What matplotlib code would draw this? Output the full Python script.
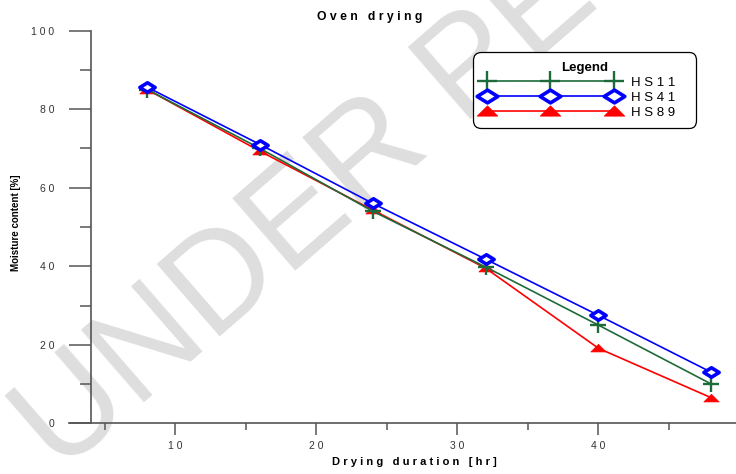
import matplotlib
matplotlib.use("Agg")
import matplotlib.pyplot as plt
from matplotlib.path import Path
from matplotlib.ticker import FixedLocator, FuncFormatter

plt.rcParams['font.family'] = ['Liberation Sans', 'DejaVu Sans']

# drying time [hr] and moisture content [%]
hours = [8, 16, 24, 32, 40, 48]
hs11 = [85.0, 70.0, 54.0, 39.8, 25.0, 10.0]
hs41 = [85.6, 71.0, 56.0, 41.8, 27.5, 13.0]
hs89 = [85.0, 69.3, 54.3, 39.5, 19.1, 6.5]

series_names = ['HS11', 'HS41', 'HS89']

x_major = [10, 20, 30, 40, 50]
x_minor = [5, 15, 25, 35, 45]
y_major = [0, 20, 40, 60, 80, 100]
y_minor = [10, 30, 50, 70, 90]

W, H = 736, 474


def spaced(s):
    """put a space between every character, like the old plotting package did"""
    return ' '.join(s)


# flattened marker shapes
diamond = Path([(-1, 0), (0, 0.62), (1, 0), (0, -0.62), (-1, 0)],
               [Path.MOVETO, Path.LINETO, Path.LINETO, Path.LINETO, Path.CLOSEPOLY])
triangle = Path([(-1, -0.45), (1, -0.45), (0, 0.55), (-1, -0.45)],
                [Path.MOVETO, Path.LINETO, Path.LINETO, Path.CLOSEPOLY])

fig = plt.figure(figsize=(W / 100, H / 100), dpi=100)
ax = fig.add_axes([0, 0, 1, 1])
ax.set_facecolor('none')

# pixel mapping: x=0 at 34.5px, 14.1 px per hour; y=0 at 423.3px, 3.926 px per %
ax.set_xlim(-34.5 / 14.1, (W - 34.5) / 14.1)
ax.set_ylim(-(H - 423.3) / 3.926, 100 + 30.7 / 3.926)

# watermark
ax.text(60 / W, 1 - 475 / H, 'UNDER PEER REVIEW', transform=ax.transAxes,
        rotation=41, rotation_mode='anchor', ha='left', va='baseline',
        fontsize=100, color='#dedede', zorder=0)

ax.plot(hours, hs11, color='#1e6b3a', lw=1.2, marker='+', ms=11, mew=1.7,
        label=spaced(series_names[0]) + '   ', zorder=3)
ax.plot(hours, hs41, color='#0000ff', lw=1.2, marker=diamond, ms=11, mew=2.6,
        mfc='white', mec='#0000ff', label=spaced(series_names[1]) + '   ', zorder=4)
ax.plot(hours, hs89, color='#ff0000', lw=1.2, marker=triangle, ms=11, mew=0.5,
        mfc='#ff0000', mec='#ff0000', label=spaced(series_names[2]) + '   ', zorder=2)

# axes drawn the way the original package did it
for side in ['top', 'right']:
    ax.spines[side].set_visible(False)
ax.spines['left'].set_position(('data', 4))
ax.spines['left'].set_bounds(0, 100)
ax.spines['bottom'].set_position(('data', 0))
ax.spines['bottom'].set_bounds(69 / 14.1 - 34.5 / 14.1, (W - 34.5) / 14.1)
for side in ['left', 'bottom']:
    ax.spines[side].set_color('#555555')
    ax.spines[side].set_linewidth(1.2)

ax.xaxis.set_major_locator(FixedLocator(x_major))
ax.xaxis.set_minor_locator(FixedLocator(x_minor))
ax.yaxis.set_major_locator(FixedLocator(y_major))
ax.yaxis.set_minor_locator(FixedLocator(y_minor))
fmt = FuncFormatter(lambda v, p: spaced(str(int(v))))
ax.xaxis.set_major_formatter(fmt)
ax.yaxis.set_major_formatter(fmt)

ax.tick_params(axis='x', which='major', direction='out', length=8.6, width=1.1,
               color='#555555', pad=4.0, labelsize=7.5, labelcolor='#333333')
ax.tick_params(axis='x', which='minor', direction='out', length=5, width=1.1,
               color='#555555')
ax.tick_params(axis='y', which='major', direction='out', length=15.8, width=1.1,
               color='#555555', pad=10.5, labelsize=7.5, labelcolor='#333333')
ax.tick_params(axis='y', which='minor', direction='out', length=7.9, width=1.1,
               color='#555555')

fig.text(370 / W, 1 - 17 / H, spaced('Oven') + '   ' + spaced('drying'),
         ha='center', va='center', fontsize=8.8, fontweight='bold')
fig.text(414 / W, 1 - 462 / H,
         spaced('Drying') + '   ' + spaced('duration') + '   ' + spaced('[hr]'),
         ha='center', va='center', fontsize=8, fontweight='bold')
fig.text(16 / W, 1 - 223 / H, 'Moisture content [%]', rotation=90,
         ha='center', va='center', fontsize=7, fontweight='bold')

leg = ax.legend(loc='upper left', bbox_to_anchor=(473 / W, 1 - 52 / H),
                bbox_transform=fig.transFigure, borderaxespad=0,
                numpoints=3, markerscale=1.35, handlelength=10.2,
                handletextpad=1.05, labelspacing=0.2, borderpad=0.75,
                fontsize=9.5, title='Legend', fancybox=True, framealpha=1,
                edgecolor='black')
leg.get_title().set_fontweight('bold')
leg.get_title().set_fontsize(9.5)
leg.get_frame().set_boxstyle('round', pad=0, rounding_size=0.6)
leg.get_frame().set_linewidth(0.9)

fig.savefig('out.png', dpi=100)
